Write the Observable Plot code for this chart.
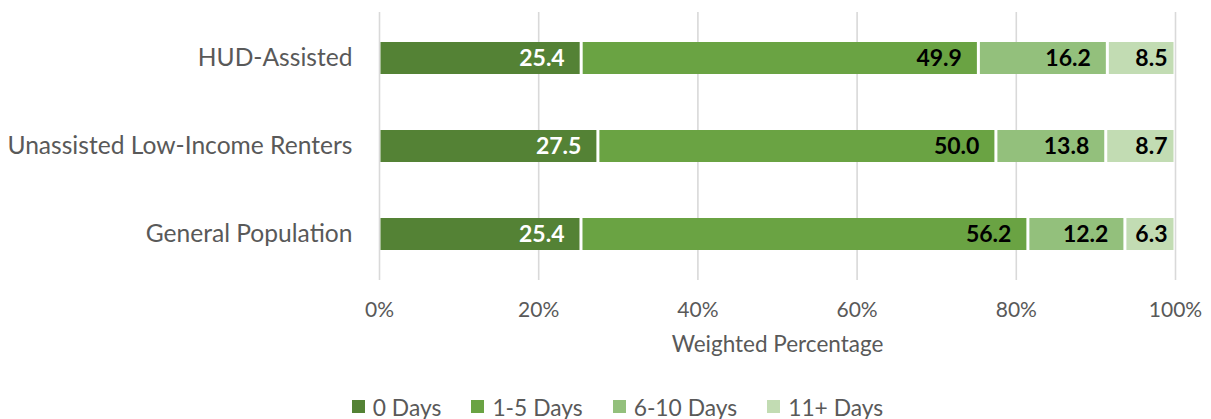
<!DOCTYPE html>
<html><head><meta charset="utf-8">
<script src="https://cdn.jsdelivr.net/npm/d3@7"></script>
<script src="https://cdn.jsdelivr.net/npm/@observablehq/plot@0.6"></script>
<style>
body{margin:0;background:#fff;font-family:Lato,sans-serif;}
.leg-swatches{justify-content:center;margin-top:10px;margin-left:24px;font-family:Lato,sans-serif;font-size:22.8px;color:#595959;}
.leg-swatch{margin-right:30px !important;}
.leg-swatch:last-child{margin-right:0 !important;}
.leg-swatch > svg{margin-right:8px !important;}
</style></head><body><div id="chart"></div><div id="legend"></div>
<script>
const groups = ["HUD-Assisted","Unassisted Low-Income Renters","General Population"];
const categories = ["0 Days","1-5 Days","6-10 Days","11+ Days"];
const hud = [25.4,49.9,16.2,8.5];
const unassisted = [27.5,50.0,13.8,8.7];
const general = [25.4,56.2,12.2,6.3];
const colors = ["#548235","#6aa343","#93c07c","#c2dcb3"];
const xTicks = [0,20,40,60,80,100];

const seriesByGroup = [hud, unassisted, general];
const data = [];
groups.forEach((g,i)=>{
  const vals = seriesByGroup[i];
  const total = d3.sum(vals);
  let acc = 0;
  vals.forEach((v,j)=>{
    const x1 = acc/total*100; acc += v; const x2 = acc/total*100;
    data.push({group:g, cat:categories[j], value:v, x1, x2, idx:j, label:v.toFixed(1)});
  });
});
const last = categories.length-1;

const chart = Plot.plot({
  width:1211, height:380,
  marginLeft:379, marginRight:36, marginTop:14, marginBottom:102,
  style:{fontFamily:"Lato, sans-serif", color:"#595959", background:"white"},
  x:{domain:[0,100]},
  y:{domain:groups, paddingInner:0.636, paddingOuter:0.318},
  color:{domain:categories, range:colors},
  marks:[
    Plot.ruleX(xTicks, {x:d=>d, stroke:"#d9d9d9", strokeWidth:1.6, insetTop:-2, insetBottom:-2}),
    Plot.barX(data, {x1:"x1", x2:"x2", y:"group", fill:"cat", insetRight:1.5, insetLeft:1.5}),
    Plot.text(data.filter(d=>d.idx===0), {x:"x2", y:"group", text:"label", textAnchor:"end", dx:-17, fill:"white", fontWeight:"bold", fontSize:23}),
    Plot.text(data.filter(d=>d.idx>0 && d.idx<last), {x:"x2", y:"group", text:"label", textAnchor:"end", dx:-17, fill:"black", fontWeight:"bold", fontSize:23}),
    Plot.text(data.filter(d=>d.idx===last), {x:"x2", y:"group", text:"label", textAnchor:"end", dx:-8, fill:"black", fontWeight:"bold", fontSize:23}),
    Plot.axisY({tickSize:0, tickPadding:27, fontSize:24.6, label:null, fill:"#595959"}),
    Plot.axisX(xTicks, {tickSize:0, tickPadding:24, fontSize:21, tickFormat:d=>d+"%", label:null, fill:"#595959"}),
    Plot.axisX({tickSize:0, ticks:[], label:"Weighted Percentage", labelAnchor:"center", labelArrow:"none", labelOffset:73, fontSize:22.5, fill:"#595959"})
  ]
});
document.getElementById("chart").appendChild(chart);
const leg = Plot.legend({color:{domain:categories, range:colors}, legend:"swatches", swatchSize:13, className:"leg"});
document.getElementById("legend").appendChild(leg);
</script></body></html>
